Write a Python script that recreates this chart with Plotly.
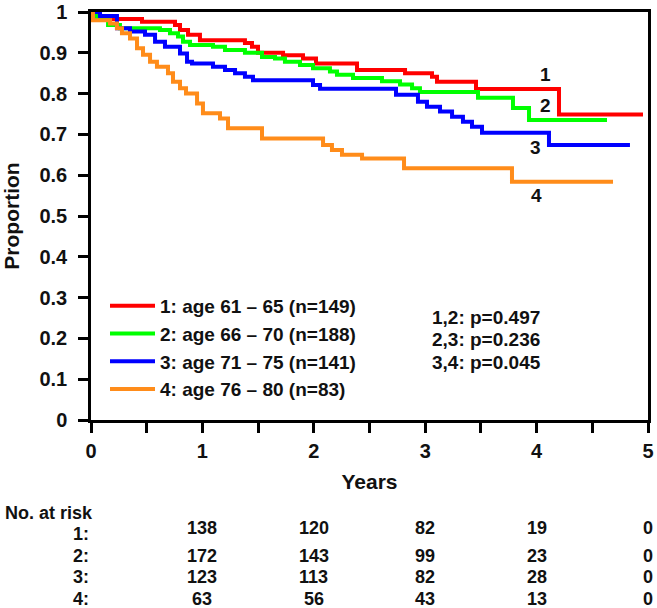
import plotly.graph_objects as go

# ---------------- data ----------------
t1 = [0, 0.036, 0.081, 0.458, 0.754, 0.799, 0.871, 0.978, 1.382, 1.445, 1.499, 1.724, 1.903, 2.02, 2.388, 2.819, 3.061, 3.106, 3.456, 4.201, 4.955]
s1 = [1.0, 0.99, 0.983, 0.976, 0.968, 0.956, 0.944, 0.931, 0.924, 0.915, 0.9, 0.894, 0.886, 0.874, 0.858, 0.85, 0.841, 0.829, 0.811, 0.749, 0.749]

t2 = [0, 0.054, 0.153, 0.26, 0.619, 0.709, 0.781, 0.826, 0.889, 1.095, 1.203, 1.382, 1.535, 1.652, 1.741, 1.876, 1.993, 2.145, 2.208, 2.352, 2.612, 2.774, 2.882, 2.953, 3.474, 3.788, 3.932, 4.632]
s2 = [1.0, 0.985, 0.968, 0.96, 0.956, 0.948, 0.94, 0.927, 0.919, 0.915, 0.907, 0.9, 0.89, 0.886, 0.878, 0.87, 0.862, 0.854, 0.846, 0.838, 0.83, 0.822, 0.813, 0.804, 0.79, 0.765, 0.735, 0.735]

t3 = [0, 0.081, 0.233, 0.35, 0.485, 0.575, 0.664, 0.799, 0.862, 0.907, 1.095, 1.203, 1.293, 1.382, 1.454, 1.993, 2.056, 2.738, 2.935, 3.016, 3.133, 3.241, 3.339, 3.42, 3.51, 4.111, 4.838]
s3 = [1.0, 0.99, 0.96, 0.952, 0.944, 0.927, 0.915, 0.898, 0.878, 0.874, 0.866, 0.858, 0.85, 0.841, 0.833, 0.821, 0.812, 0.797, 0.78, 0.768, 0.756, 0.743, 0.731, 0.719, 0.704, 0.674, 0.674]

t4 = [0, 0.018, 0.171, 0.233, 0.278, 0.35, 0.413, 0.467, 0.53, 0.592, 0.691, 0.736, 0.799, 0.853, 0.952, 1.005, 1.158, 1.23, 1.535, 2.083, 2.163, 2.253, 2.433, 2.81, 3.779, 4.686]
s4 = [1.0, 0.98, 0.972, 0.96, 0.948, 0.935, 0.911, 0.895, 0.878, 0.866, 0.85, 0.829, 0.813, 0.8, 0.776, 0.752, 0.739, 0.715, 0.69, 0.674, 0.662, 0.65, 0.641, 0.617, 0.584, 0.584]

group_names = ["1: age 61 \u2013 65 (n=149)", "2: age 66 \u2013 70 (n=188)",
               "3: age 71 \u2013 75 (n=141)", "4: age 76 \u2013 80 (n=83)"]
group_labels = ["1", "2", "3", "4"]
colors = ["#FF0000", "#00FF00", "#0000FF", "#FF8C1A"]

p_values = ["1,2: p=0.497", "2,3: p=0.236", "3,4: p=0.045"]

risk_times = [1, 2, 3, 4, 5]
risk_rows = ["1:", "2:", "3:", "4:"]
risk_1 = [138, 120, 82, 19, 0]
risk_2 = [172, 143, 99, 23, 0]
risk_3 = [123, 113, 82, 28, 0]
risk_4 = [63, 56, 43, 13, 0]

y_ticks = [0, 0.1, 0.2, 0.3, 0.4, 0.5, 0.6, 0.7, 0.8, 0.9, 1]
y_ticktext = ["0", "0.1", "0.2", "0.3", "0.4", "0.5", "0.6", "0.7", "0.8", "0.9", "1"]
x_ticks = [0, 0.5, 1, 1.5, 2, 2.5, 3, 3.5, 4, 4.5, 5]
x_ticktext = ["0", "", "1", "", "2", "", "3", "", "4", "", "5"]

# ---------------- figure ----------------
FONT = "Liberation Sans, Arial, sans-serif"
W, H = 657, 608
L, R, T, B = 91, 9, 12, 188
pw, ph = W - L - R, H - T - B


def px_to_paper(px, py):
    """page pixel -> paper coordinates"""
    return (px - L) / pw, (H - B - py) / ph


fig = go.Figure()
series = [(t1, s1), (t2, s2), (t3, s3), (t4, s4)]
for i, (t, s) in enumerate(series):
    fig.add_trace(go.Scatter(
        x=t, y=s, mode="lines", line=dict(shape="hv", color=colors[i], width=4),
        name=group_names[i], legendgroup=str(i)))

# curve labels
label_pos = [(4.08, 0.846), (4.08, 0.77), (3.99, 0.669), (4.0, 0.551)]
for lab, (lx, ly) in zip(group_labels, label_pos):
    fig.add_annotation(x=lx, y=ly, text=lab, showarrow=False,
                       font=dict(family=FONT, size=19, color="#111", weight="bold"))

# p-values
for k, pv in enumerate(p_values):
    xx, yy = px_to_paper(430, 317 + 22.5 * k)
    fig.add_annotation(x=xx, y=yy, xref="paper", yref="paper", text=pv,
                       showarrow=False, xanchor="left", yanchor="middle",
                       font=dict(family=FONT, size=19, color="#111", weight="bold"))

# risk table
tfont = dict(family=FONT, size=18, color="#111", weight="bold")
xx, yy = px_to_paper(3, 513)
fig.add_annotation(x=xx, y=yy, xref="paper", yref="paper", text="No. at risk",
                   showarrow=False, xanchor="left", yanchor="middle", font=tfont)
row_label_y = [534, 556, 577, 599]
row_num_y = [528, 556, 577, 599]
for r, (lab, vals) in enumerate(zip(risk_rows, [risk_1, risk_2, risk_3, risk_4])):
    xx, yy = px_to_paper(91, row_label_y[r])
    fig.add_annotation(x=xx, y=yy, xref="paper", yref="paper", text=lab,
                       showarrow=False, xanchor="right", yanchor="middle", font=tfont)
    _, yy = px_to_paper(0, row_num_y[r])
    for tv, v in zip(risk_times, vals):
        fig.add_annotation(x=tv, y=yy, xref="x", yref="paper", text=str(v),
                           showarrow=False, xanchor="center", yanchor="middle", font=tfont)

axis_font = dict(family=FONT, size=20, color="#111", weight="bold")
lx, ly = px_to_paper(105, 287)
fig.update_layout(
    width=W, height=H, margin=dict(l=L, r=R, t=T, b=B, autoexpand=False),
    paper_bgcolor="white", plot_bgcolor="white",
    showlegend=True,
    legend=dict(x=lx, y=ly, xanchor="left", yanchor="top",
                bgcolor="rgba(0,0,0,0)", itemwidth=45, tracegroupgap=0,
                font=dict(family=FONT, size=19, color="#111", weight="bold")),
    xaxis=dict(range=[0, 5], tickvals=x_ticks, ticktext=x_ticktext, ticks="outside",
               ticklen=10, tickwidth=2.5, tickcolor="black", showline=True,
               linecolor="black", linewidth=2.5, mirror=True, showgrid=False,
               zeroline=False, tickfont=axis_font, ticklabelstandoff=1,
               ticklabeloverflow="allow",
               title=dict(text="Years", font=dict(family=FONT, size=21, color="#111", weight="bold"),
                          standoff=14)),
    yaxis=dict(range=[0, 1], tickvals=y_ticks, ticktext=y_ticktext, ticks="outside",
               ticklen=10, tickwidth=2.5, tickcolor="black", showline=True,
               linecolor="black", linewidth=2.5, mirror=True, showgrid=False,
               zeroline=False, tickfont=axis_font, ticklabelstandoff=7,
               ticklabeloverflow="allow",
               title=dict(text="Proportion", font=dict(family=FONT, size=21, color="#111", weight="bold"),
                          standoff=18)),
)
# the page is exactly the chart size: remove the default body margin
fig.write_html("out.html", config={"displayModeBar": False},
               post_script="document.body.style.margin='0';document.body.style.overflow='hidden';")
